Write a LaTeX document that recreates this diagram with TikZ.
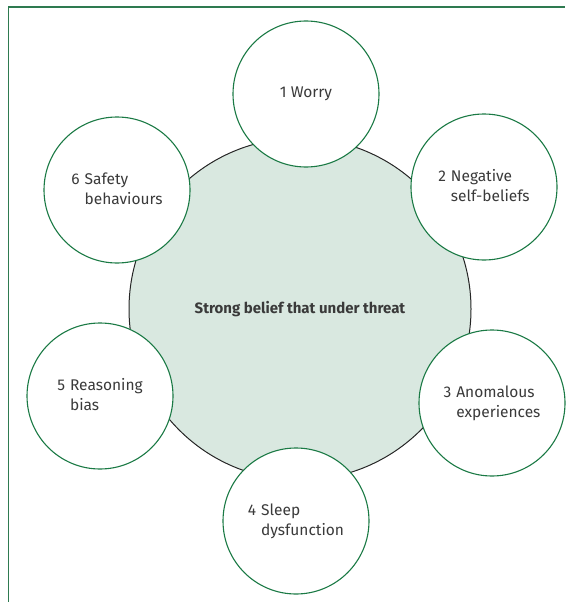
\documentclass[tikz,border=0pt]{standalone}
\usepackage{fontspec}
\setmainfont{Fira Sans}
\definecolor{framegreen}{HTML}{2E7A50}
\definecolor{ringgreen}{HTML}{1B7A45}
\definecolor{corefill}{HTML}{D9E8E0}
\definecolor{textgray}{HTML}{3A3A3A}
\tikzset{
  factor/.style={circle, draw=ringgreen, line width=1.1pt, fill=white, minimum size=146pt, inner sep=0pt},
  core/.style={circle, draw=black!85, line width=1pt, fill=corefill, minimum size=342pt, inner sep=0pt},
  lbl/.style={text=textgray, font=\fontsize{15.5}{20}\selectfont, align=left, inner sep=0pt}
}
\newcommand{\twoline}[3]{\renewcommand{\arraystretch}{1}\begin{tabular}{@{}l@{\hspace{5pt}}l@{}}#1&#2\\&#3\end{tabular}}
\begin{document}
\begin{tikzpicture}[x=1pt,y=-1pt]
\useasboundingbox (0,0) rectangle (565,602);
\draw[framegreen, line width=1.6pt] (8.5,602) -- (8.5,7) -- (565,7);
\node[core] (core) at (300,309) {};
\node[text=textgray, font=\bfseries\fontsize{15}{18}\selectfont] (coretext) at (core.center) {Strong belief that under threat};
\node[factor] (f1) at (306,94) {};
\node[factor] (f2) at (484,187) {};
\node[factor] (f3) at (492,403) {};
\node[factor] (f4) at (296,521) {};
\node[factor] (f5) at (100,396) {};
\node[factor] (f6) at (117,190) {};
\node[lbl] (t1) at (f1.center) {1 Worry};
\node[lbl] (t2) at (f2.center) {\twoline{2}{Negative}{self-beliefs}};
\node[lbl] (t3) at (f3.center) {\twoline{3}{Anomalous}{experiences}};
\node[lbl] (t4) at (f4.center) {\twoline{4}{Sleep}{dysfunction}};
\node[lbl] (t5) at (f5.center) {\twoline{5}{Reasoning}{bias}};
\node[lbl] (t6) at (f6.center) {\twoline{6}{Safety}{behaviours}};
\end{tikzpicture}
\end{document}
